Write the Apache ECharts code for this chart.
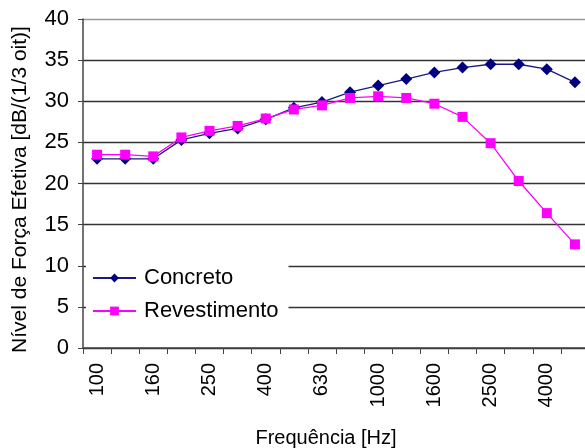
<!DOCTYPE html>
<html><head><meta charset="utf-8">
<script src="https://cdn.jsdelivr.net/npm/echarts@6/dist/echarts.min.js"></script>
<style>html,body{margin:0;padding:0;background:#fff}#c{width:585px;height:448px}</style>
</head><body><div id="c"></div>
<script>
const categories = ['100','125','160','200','250','315','400','500','630','800','1000','1250','1600','2000','2500','3150','4000','5000'];
const concreto = [23.0,23.0,23.0,25.3,26.1,26.7,27.8,29.2,29.9,31.1,31.9,32.7,33.5,34.1,34.5,34.5,33.9,32.3];
const revestimento = [23.5,23.5,23.3,25.6,26.4,27.0,27.9,29.0,29.5,30.4,30.6,30.4,29.7,28.1,24.9,20.3,16.4,12.6];
const yTicks = {min:0, max:40, interval:5};

const chart = echarts.init(document.getElementById('c'), null, {renderer:'canvas'});
const font = 'Liberation Sans, Arial, sans-serif';
chart.setOption({
  animation:false,
  backgroundColor:'#fff',
  grid:{left:83, right:-4, top:19, bottom:100, containLabel:false, outerBoundsMode:'none'},
  legend:{
    orient:'vertical', left:86, top:263,
    backgroundColor:'#fff', padding:[4,10,6,6],
    itemWidth:43, itemHeight:11, itemGap:11,
    textStyle:{fontFamily:font, fontSize:22, color:'#000', padding:[0,0,0,3]},
    data:['Concreto','Revestimento']
  },
  xAxis:{
    type:'category', data:categories, boundaryGap:true,
    name:'Frequência [Hz]', nameLocation:'middle', nameGap:80,
    nameTextStyle:{fontFamily:font, fontSize:20, color:'#000', padding:[0,20,0,0]},
    axisLine:{lineStyle:{color:'#444', width:1.5}},
    axisTick:{show:true, alignWithLabel:false, interval:0, length:6, lineStyle:{color:'#444'}},
    axisLabel:{interval:1, rotate:90, fontFamily:font, fontSize:20, color:'#000', margin:15},
    splitLine:{show:false}
  },
  yAxis:{
    type:'value', min:yTicks.min, max:yTicks.max, interval:yTicks.interval,
    name:'Nível de Força Efetiva [dB/(1/3 oit)]', nameLocation:'middle', nameGap:52,
    nameTextStyle:{fontFamily:font, fontSize:21, color:'#000', padding:[0,12,0,0]},
    axisLine:{show:true, lineStyle:{color:'#444', width:1.5}},
    axisTick:{show:true, length:5, lineStyle:{color:'#444'}},
    axisLabel:{fontFamily:font, fontSize:22, color:'#000', margin:14},
    splitLine:{lineStyle:{color:['#333','#333','#333','#333','#333','#333','#333','#333','#999'], width:1.3}}
  },
  series:[
    {name:'Concreto', type:'line', data:concreto, symbol:'diamond', symbolSize:12,
     itemStyle:{color:'#000080'}, lineStyle:{color:'#1a1a80', width:1.3}},
    {name:'Revestimento', type:'line', data:revestimento, symbol:'rect', symbolSize:10,
     itemStyle:{color:'#ff00ff'}, lineStyle:{color:'#ff00ff', width:1.3}}
  ]
});
</script></body></html>
